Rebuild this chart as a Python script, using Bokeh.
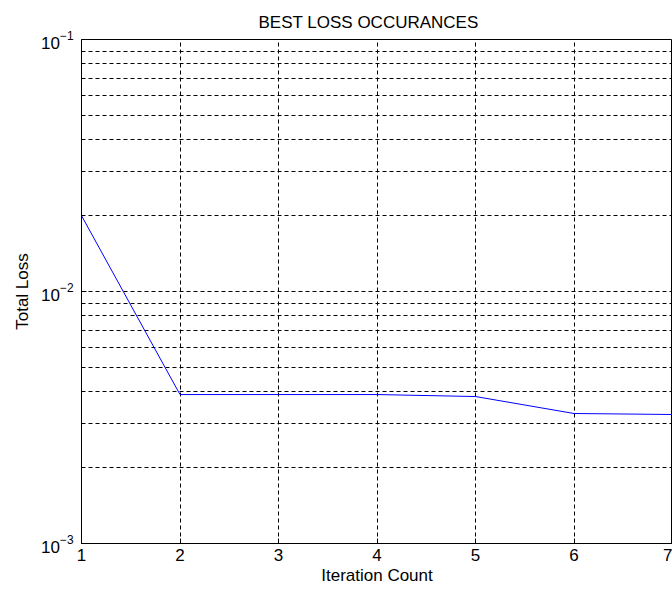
from bokeh.plotting import figure
from bokeh.models import FixedTicker, Title, LogTickFormatter
from bokeh.embed import file_html
from bokeh.resources import INLINE

iterations = [1, 2, 3, 4, 5, 6, 7]
total_loss = [0.02, 0.0039, 0.0039, 0.0039, 0.00383, 0.00328, 0.00325]
x_ticks = [1, 2, 3, 4, 5, 6, 7]
y_major = [1e-3, 1e-2, 1e-1]
y_minor = [m * d for d in (1e-3, 1e-2) for m in (2, 3, 4, 5, 6, 7, 8, 9)]

FONT = "Liberation Sans"

p = figure(width=672, height=591, output_backend="svg", toolbar_location=None,
           y_axis_type="log", x_range=(1, 7), y_range=(1e-3, 1e-1),
           min_border_left=81, min_border_right=0, min_border_top=39, min_border_bottom=48)

p.add_layout(Title(text="BEST LOSS OCCURANCES", align="left", offset=177,
                   text_font=FONT, text_font_size="17px", text_font_style="normal",
                   text_color="black", standoff=16), "above")

p.line(iterations, total_loss, line_color="#0000ff", line_width=1)

p.xaxis.ticker = FixedTicker(ticks=x_ticks)
p.yaxis.ticker = FixedTicker(ticks=y_major, minor_ticks=y_minor)
p.yaxis.formatter = LogTickFormatter()
for ax in (p.xaxis[0], p.yaxis[0]):
    ax.axis_line_color = "black"
    ax.major_tick_line_color = "black"
    ax.minor_tick_line_color = "black"
    ax.major_tick_in = 5
    ax.major_tick_out = 0
    ax.minor_tick_in = 3
    ax.minor_tick_out = 0
    ax.major_label_text_font = FONT
    ax.major_label_text_font_size = "17px"
    ax.major_label_text_color = "black"
    ax.axis_label_text_font = FONT
    ax.axis_label_text_font_size = "17px"
    ax.axis_label_text_font_style = "normal"
    ax.axis_label_text_color = "black"
p.xaxis.minor_tick_line_color = None
p.xaxis.axis_label = "Iteration Count"
p.yaxis.axis_label = "Total Loss"
p.xaxis.major_label_standoff = 5
p.xaxis.axis_label_standoff = 2
p.yaxis.major_label_standoff = 8
p.yaxis.axis_label_standoff = 6

p.xgrid.ticker = FixedTicker(ticks=x_ticks)
p.xgrid.grid_line_color = "black"
p.xgrid.grid_line_dash = "4 3"
p.ygrid.ticker = FixedTicker(ticks=y_major, minor_ticks=y_minor)
p.ygrid.grid_line_color = "black"
p.ygrid.grid_line_dash = "4 3"
p.ygrid.minor_grid_line_color = "black"
p.ygrid.minor_grid_line_dash = "4 3"

p.outline_line_color = "black"
p.outline_line_alpha = 1
p.background_fill_color = "white"
p.border_fill_color = "white"

open("out.html", "w").write(file_html(p, INLINE))
